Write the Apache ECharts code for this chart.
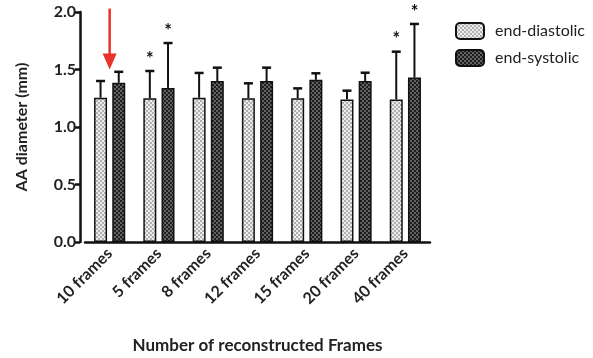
<!DOCTYPE html>
<html><head><meta charset="utf-8">
<script src="https://cdn.jsdelivr.net/npm/echarts@6/dist/echarts.min.js"></script>
<style>html,body{margin:0;padding:0;background:#fff}#c{width:593px;height:358px}</style>
</head><body><div id="c"></div>
<script>
const categories = ['10 frames','5 frames','8 frames','12 frames','15 frames','20 frames','40 frames'];
const diastolic = [1.255, 1.25, 1.255, 1.25, 1.25, 1.24, 1.24];
const diastolicErr = [1.40, 1.487, 1.47, 1.38, 1.336, 1.316, 1.655];
const systolic = [1.385, 1.34, 1.40, 1.40, 1.41, 1.40, 1.43];
const systolicErr = [1.48, 1.73, 1.516, 1.516, 1.467, 1.472, 1.896];
const diastolicStar = [false, true, false, false, false, false, true];
const systolicStar = [false, true, false, false, false, false, true];
const yTicks = [0, 0.5, 1.0, 1.5, 2.0];
const arrowFrom = 2.03, arrowTo = 1.50;

function pattern(a, b) {
  const c = document.createElement('canvas');
  c.width = 4; c.height = 4;
  const g = c.getContext('2d');
  g.fillStyle = a; g.fillRect(0, 0, 4, 4);
  g.fillStyle = b; g.fillRect(0, 0, 2, 2); g.fillRect(2, 2, 2, 2);
  return {image: c, repeat: 'repeat'};
}
const lightPat = pattern('#ededed', '#b0b0b0');
const darkPat = pattern('#626262', '#1e1e1e');

const FONT = 'Lato';
const BAR_W = 13, OFFSET = 9.1;

function errSeries(means, errs, stars, sign) {
  return {
    type: 'custom', z: 5,
    data: means.map((m, i) => [i, m, errs[i], stars[i] ? 1 : 0]),
    encode: {x: 0, y: 2},
    renderItem: function (params, api) {
      const top = api.coord([api.value(0), api.value(2)]);
      const base = api.coord([api.value(0), api.value(1)]);
      const x = top[0] + sign * OFFSET;
      const children = [
        {type: 'line', shape: {x1: x, y1: base[1], x2: x, y2: top[1]}, style: {stroke: '#111', lineWidth: 2}},
        {type: 'line', shape: {x1: x - 4.5, y1: top[1], x2: x + 4.5, y2: top[1]}, style: {stroke: '#111', lineWidth: 2.5}}
      ];
      if (api.value(3)) {
        children.push({type: 'text', style: {text: '*', x: x, y: top[1] - 3, align: 'center', verticalAlign: 'bottom', font: 'bold 18px ' + FONT, fill: '#111'}});
      }
      return {type: 'group', children: children};
    }
  };
}

const chart = echarts.init(document.getElementById('c'));
chart.setOption({
  animation: false,
  backgroundColor: '#fff',
  grid: {left: 85, right: 163, top: 12, bottom: 116, outerBoundsMode: 'none', containLabel: false},
  legend: {
    orient: 'vertical', left: 450, top: 17, itemWidth: 28, itemHeight: 16, itemGap: 9,
    textStyle: {fontFamily: FONT, fontSize: 16, color: '#222', padding: [0, 0, 0, 6]},
    data: [
      {name: 'end-diastolic', itemStyle: {color: lightPat, borderColor: '#111', borderWidth: 2}},
      {name: 'end-systolic', itemStyle: {color: darkPat, borderColor: '#111', borderWidth: 2}}
    ]
  },
  xAxis: {
    type: 'category', data: categories,
    axisLine: {lineStyle: {color: '#111', width: 2.5}},
    axisTick: {alignWithLabel: true, length: 6, lineStyle: {color: '#111', width: 2.5}},
    axisLabel: {rotate: 45, margin: 9, fontFamily: FONT, fontWeight: 'bold', fontSize: 16, color: '#222'},
    name: 'Number of reconstructed Frames', nameLocation: 'middle', nameGap: 95,
    nameTextStyle: {fontFamily: FONT, fontWeight: 'bold', fontSize: 17, color: '#222'}
  },
  yAxis: {
    type: 'value', min: 0, max: 2, interval: 0.5, offset: 5,
    axisLine: {show: true, lineStyle: {color: '#111', width: 2.5}},
    axisTick: {show: true, length: 5, lineStyle: {color: '#111', width: 2.5}},
    splitLine: {show: false},
    axisLabel: {fontFamily: FONT, fontWeight: 'bold', fontSize: 16, color: '#222', margin: 4,
      formatter: v => v.toFixed(1)},
    name: 'AA diameter (mm)', nameLocation: 'middle', nameGap: 50, nameRotate: 90,
    nameTextStyle: {fontFamily: FONT, fontWeight: 'bold', fontSize: 16, color: '#222'}
  },
  series: [
    {name: 'end-diastolic', type: 'bar', data: diastolic, barWidth: BAR_W, barGap: '40%',
      itemStyle: {color: lightPat, borderColor: '#111', borderWidth: 1.5}},
    {name: 'end-systolic', type: 'bar', data: systolic, barWidth: BAR_W, barGap: '40%',
      itemStyle: {color: darkPat, borderColor: '#111', borderWidth: 1.5}},
    errSeries(diastolic, diastolicErr, diastolicStar, -1),
    errSeries(systolic, systolicErr, systolicStar, 1)
  ]
});

const p1 = chart.convertToPixel({xAxisIndex: 0, yAxisIndex: 0}, [0, arrowFrom]);
const p2 = chart.convertToPixel({xAxisIndex: 0, yAxisIndex: 0}, [0, arrowTo]);
const headH = 16, headW = 7;
chart.setOption({
  graphic: [
    {type: 'line', shape: {x1: p1[0], y1: p1[1], x2: p2[0], y2: p2[1] - headH + 2}, style: {stroke: '#e8332a', lineWidth: 2.5}, z: 10},
    {type: 'polygon', shape: {points: [[p2[0] - headW, p2[1] - headH], [p2[0] + headW, p2[1] - headH], [p2[0], p2[1]]]}, style: {fill: '#e8332a'}, z: 10}
  ]
});
</script></body></html>
